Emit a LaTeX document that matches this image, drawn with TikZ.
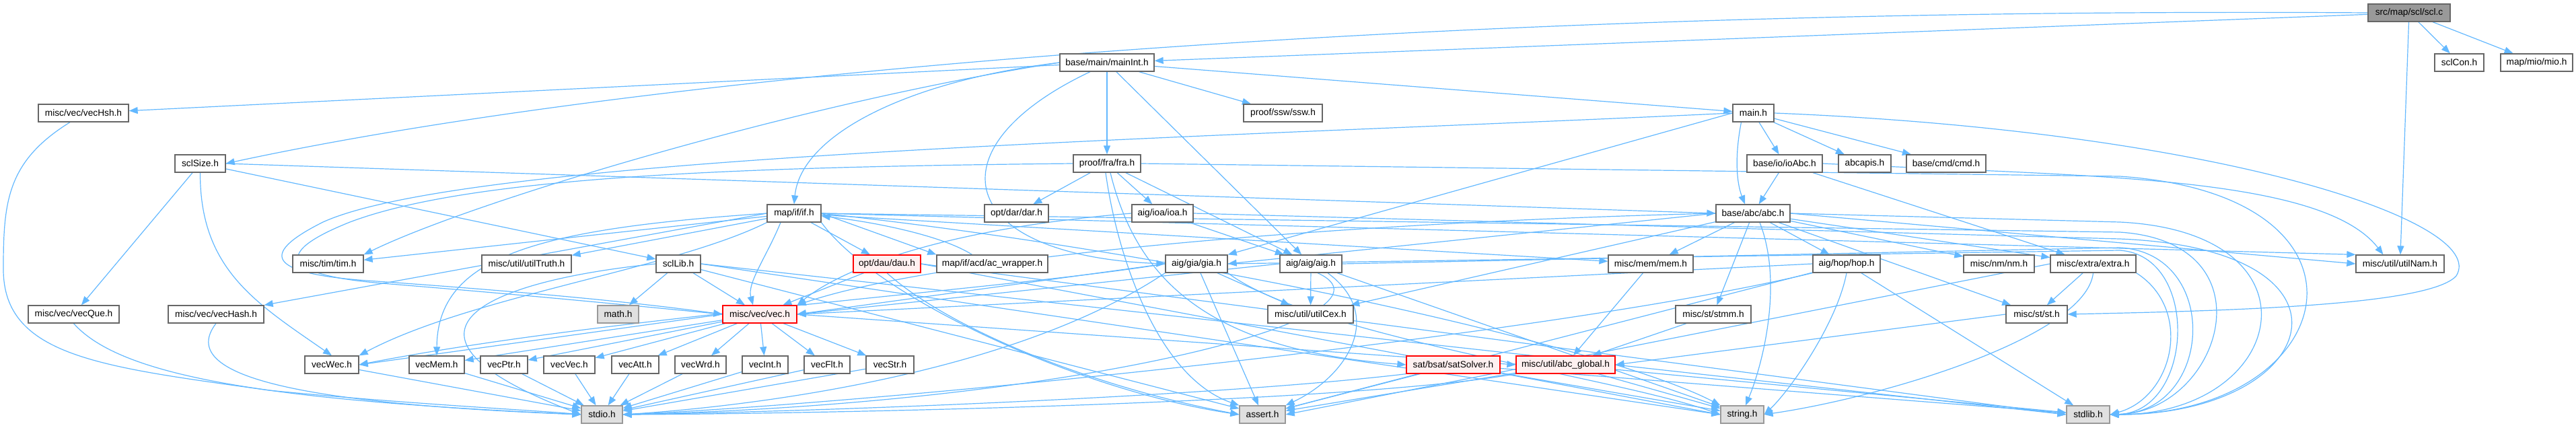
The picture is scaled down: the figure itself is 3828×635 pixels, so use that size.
\documentclass[tikz,border=0pt]{standalone}
\usepackage{fontspec}
\setmainfont{Liberation Sans}
\usepackage{xcolor}
\usepackage{tikz}
\usetikzlibrary{arrows.meta}

\definecolor{edgeblue}{HTML}{63B8FF}
\definecolor{boxgray}{HTML}{666666}
\definecolor{sysfill}{HTML}{E0E0E0}
\definecolor{sysdraw}{HTML}{999999}
\definecolor{cutfill}{HTML}{FFF0F0}
\definecolor{cutdraw}{HTML}{FF0000}
\definecolor{rootfill}{HTML}{999999}

\pgfdeclarelayer{edges}
\pgfsetlayers{edges,main}

\tikzset{
	hdr/.style={draw=boxgray, line width=1.3pt, fill=white, minimum height=26pt,
		inner xsep=1pt, inner ysep=0pt, font=\fontsize{13.7}{16}\selectfont},
	syshdr/.style={hdr, draw=sysdraw, fill=sysfill},
	cuthdr/.style={hdr, draw=cutdraw, fill=cutfill},
	roothdr/.style={hdr, fill=rootfill},
	dep/.style={draw=edgeblue, line width=1.2pt, -{Triangle[length=13pt,width=10pt]}},
}

\begin{document}
\begin{tikzpicture}[x=1pt,y=-1pt]
	\useasboundingbox (0,0) rectangle (3828,635);
	% Draw headers, row by row
	\node[roothdr, minimum width=122pt] (scl) at (3580,19) {src/map/scl/scl.c};
	\node[hdr, minimum width=140pt] (mainInt) at (1645,93) {base/main/mainInt.h};
	\node[hdr, minimum width=73pt] (sclCon) at (3654.5,93) {sclCon.h};
	\node[hdr, minimum width=107pt] (mio) at (3769.5,93) {map/mio/mio.h};
	\node[hdr, minimum width=134pt] (vecHsh) at (124,168) {misc/vec/vecHsh.h};
	\node[hdr, minimum width=117pt] (ssw) at (1906.5,168) {proof/ssw/ssw.h};
	\node[hdr, minimum width=61pt] (mainh) at (2605.5,168) {main.h};
	\node[hdr, minimum width=75pt] (sclSize) at (297.5,243) {sclSize.h};
	\node[hdr, minimum width=100pt] (fra) at (1645,243) {proof/fra/fra.h};
	\node[hdr, minimum width=112pt] (ioAbc) at (2652,243) {base/io/ioAbc.h};
	\node[hdr, minimum width=78pt] (abcapis) at (2771,243) {abcapis.h};
	\node[hdr, minimum width=118pt] (cmd) at (2892,243) {base/cmd/cmd.h};
	\node[hdr, minimum width=80pt] (ifh) at (1180,317) {map/if/if.h};
	\node[hdr, minimum width=95pt] (dar) at (1510.5,317) {opt/dar/dar.h};
	\node[hdr, minimum width=91pt] (ioa) at (1727.5,317) {aig/ioa/ioa.h};
	\node[hdr, minimum width=110pt] (abc) at (2605,317) {base/abc/abc.h};
	\node[hdr, minimum width=105pt] (tim) at (487.5,392) {misc/tim/tim.h};
	\node[hdr, minimum width=133pt] (truth) at (782.5,392) {misc/util/utilTruth.h};
	\node[hdr, minimum width=66pt] (sclLib) at (1008,392) {sclLib.h};
	\node[cuthdr, minimum width=100pt] (dau) at (1318,392) {opt/dau/dau.h};
	\node[hdr, minimum width=165pt] (acw) at (1474.5,392) {map/if/acd/ac\_wrapper.h};
	\node[hdr, minimum width=92pt] (gia) at (1778,392) {aig/gia/gia.h};
	\node[hdr, minimum width=92pt] (aig) at (1948,392) {aig/aig/aig.h};
	\node[hdr, minimum width=126pt] (mem) at (2453,392) {misc/mem/mem.h};
	\node[hdr, minimum width=100pt] (hop) at (2744,392) {aig/hop/hop.h};
	\node[hdr, minimum width=105pt] (nm) at (2970.5,392) {misc/nm/nm.h};
	\node[hdr, minimum width=127pt] (extra) at (3110.5,392) {misc/extra/extra.h};
	\node[hdr, minimum width=131pt] (nam) at (3566.5,392) {misc/util/utilNam.h};
	\node[hdr, minimum width=135pt] (vecQue) at (109.5,467) {misc/vec/vecQue.h};
	\node[hdr, minimum width=142pt] (vecHash) at (321,467) {misc/vec/vecHash.h};
	\node[syshdr, minimum width=61pt] (math) at (918.5,467) {math.h};
	\node[cuthdr, minimum width=110pt] (vec) at (1129,467) {misc/vec/vec.h};
	\node[hdr, minimum width=127pt] (cex) at (1947.5,467) {misc/util/utilCex.h};
	\node[hdr, minimum width=112pt] (stmm) at (2546,467) {misc/st/stmm.h};
	\node[hdr, minimum width=91pt] (st) at (3026.5,467) {misc/st/st.h};
	\node[hdr, minimum width=80pt] (vecWec) at (493,542) {vecWec.h};
	\node[hdr, minimum width=82pt] (vecMem) at (649,542) {vecMem.h};
	\node[hdr, minimum width=70pt] (vecPtr) at (749,542) {vecPtr.h};
	\node[hdr, minimum width=76pt] (vecVec) at (846,542) {vecVec.h};
	\node[hdr, minimum width=70pt] (vecAtt) at (944,542) {vecAtt.h};
	\node[hdr, minimum width=76pt] (vecWrd) at (1041,542) {vecWrd.h};
	\node[hdr, minimum width=68pt] (vecInt) at (1137,542) {vecInt.h};
	\node[hdr, minimum width=68pt] (vecFlt) at (1229,542) {vecFlt.h};
	\node[hdr, minimum width=71pt] (vecStr) at (1322.5,542) {vecStr.h};
	\node[cuthdr, minimum width=139pt] (sat) at (2159.5,542) {sat/bsat/satSolver.h};
	\node[cuthdr, minimum width=147pt] (glob) at (2326.5,542) {misc/util/abc\_global.h};
	\node[syshdr, minimum width=61pt] (stdio) at (894.5,616) {stdio.h};
	\node[syshdr, minimum width=68pt] (assert) at (1876,616) {assert.h};
	\node[syshdr, minimum width=64pt] (string) at (2589,616) {string.h};
	\node[syshdr, minimum width=64pt] (stdlib) at (3103,616) {stdlib.h};

	\begin{pgfonlayer}{edges}
	% scl.c
	\draw[dep] (scl) -- (mainInt);
	\draw[dep] (scl.west) .. controls (2200,10) and (1000,100) .. (sclSize.east);
	\draw[dep] (scl) -- (sclCon);
	\draw[dep] (scl) -- (mio);
	\draw[dep] (scl) -- (nam);
	% mainInt.h
	\draw[dep] (mainInt) -- (vecHsh);
	\draw[dep] (mainInt.west) .. controls (1200,150) and (700,300) .. (tim.north east);
	\draw[dep] (mainInt.west) .. controls (1350,120) and (1190,200) .. (ifh.north);
	\draw[dep] ([xshift=-25pt]mainInt.south) .. controls (1380,220) and (1420,380) .. (gia.west);
	\draw[dep] (mainInt) -- (fra);
	\draw[dep] (mainInt) -- (ssw);
	\draw[dep] (mainInt) -- (aig);
	\draw[dep] (mainInt) -- (mainh);
	% main.h
	\draw[dep] (mainh) -- (ioAbc);
	\draw[dep] (mainh) -- (abcapis);
	\draw[dep] (mainh) -- (cmd);
	\draw[dep] ([xshift=-18pt]mainh.south) .. controls (2578,230) and (2580,270) .. ([xshift=-12pt]abc.north);
	\draw[dep] (mainh.west) -- (gia.north east);
	\draw[dep] (mainh.west) .. controls (1800,205) and (700,230) .. (480,330)
		.. controls (380,380) and (400,408) .. (560,418) .. controls (800,435) and (950,450) .. (vec.west);
	\draw[dep] (mainh.east) .. controls (3300,195) and (3700,330) .. (3650,410)
		.. controls (3610,455) and (3300,462) .. (st.east);
	% sclSize.h
	\draw[dep] (sclSize) -- (vecQue);
	\draw[dep] (sclSize.south) .. controls (297,400) and (380,450) .. (vecWec.north);
	\draw[dep] (sclSize.east) -- (abc.west);
	\draw[dep] (sclSize) -- (sclLib);
	% proof/fra/fra.h
	\draw[dep] (fra) -- (dar);
	\draw[dep] (fra) -- (ioa);
	\draw[dep] (fra) -- (aig);
	\draw[dep] (fra.west) .. controls (1100,248) and (700,262) .. (520,330)
		.. controls (400,378) and (420,410) .. (580,422) .. controls (800,440) and (950,455) .. (vec.west);
	\draw[dep] ([xshift=-2pt]fra.south) .. controls (1660,380) and (1720,560) .. (assert.north west);
	\draw[dep] ([xshift=5pt]fra.south) .. controls (1690,420) and (1800,520) .. (sat.west);
	\draw[dep] (fra.east) -- (3150,262) .. controls (3560,290) and (3480,616) .. (stdlib.east);
	% base/io/ioAbc.h
	\draw[dep] (ioAbc) -- (abc);
	\draw[dep] (ioAbc) -- (extra);
	\draw[dep] (ioAbc.east) .. controls (3100,262) and (3450,260) .. ([xshift=-25pt]nam.north);
	% map/if/if.h
	\draw[dep] (ifh) -- (truth);
	\draw[dep] (ifh) -- (tim);
	\draw[dep] (ifh.west) -- (vecHash.north east);
	\draw[dep] (ifh.west) .. controls (800,340) and (650,380) .. (vecMem.north);
	\draw[dep] (ifh.south west) .. controls (1000,400) and (700,440) .. (vecWec.north east);
	\draw[dep] ([xshift=-20pt]ifh.south) .. controls (1140,380) and (1110,420) .. ([xshift=-10pt]vec.north);
	\draw[dep] (ifh) -- (dau);
	\draw[dep] (ifh.east) -- (acw.north west);
	\draw[dep] ([xshift=-30pt]acw.north) .. controls (1400,350) and (1300,330) .. ([yshift=-4pt]ifh.east);
	\draw[dep] (ifh) -- (mem);
	\draw[dep] (ifh.east) -- (nam.north west);
	\draw[dep] (ifh.south east) .. controls (1300,440) and (1600,580) .. (assert.west);
	\draw[dep] (ifh.east) -- (3150,345) .. controls (3380,360) and (3300,612) .. (stdlib.east);
	\draw[dep] (ifh.east) .. controls (1800,380) and (2400,520) .. (string.north west);
	% sclLib.h
	\draw[dep] (sclLib) -- (math);
	\draw[dep] (sclLib) -- (vec);
	\draw[dep] (sclLib.west) .. controls (700,420) and (560,500) .. (stdio.west);
	\draw[dep] (sclLib) -- (assert);
	\draw[dep] (sclLib.east) -- (string.west);
	\draw[dep] (sclLib.east) -- (stdlib.west);
	% opt/dau/dau.h
	\draw[dep] (dau) -- (vec);
	\draw[dep] (dau.south) .. controls (1400,480) and (1600,570) .. (assert.west);
	\draw[dep] (dau.east) -- (string.west);
	\draw[dep] (dau.east) -- (stdlib.west);
	% aig/ioa/ioa.h
	\draw[dep] (ioa) -- (aig);
	\draw[dep] (ioa.west) .. controls (1400,340) and (1250,400) .. (vec.north east);
	\draw[dep] (ioa.east) -- (3150,355) .. controls (3530,370) and (3450,616) .. (stdlib.east);
	% aig/gia/gia.h
	\draw[dep] (gia.west) -- (vec.east);
	\draw[dep] (gia.west) .. controls (1500,430) and (900,470) .. (vecWec.east);
	\draw[dep] (gia) -- (cex);
	\draw[dep] (gia) -- (assert);
	\draw[dep] (gia.south east) .. controls (1950,500) and (2400,560) .. (string.west);
	\draw[dep] (gia.south west) .. controls (1500,560) and (1100,605) .. (stdio.east);
	\draw[dep] (gia.east) -- (3150,372) .. controls (3270,380) and (3260,612) .. (stdlib.east);
	% aig/aig/aig.h
	\draw[dep] (aig) -- (cex);
	\draw[dep] (aig.west) -- (vec.east);
	\draw[dep] ([xshift=25pt]aig.south) .. controls (2060,470) and (2000,560) .. (assert.north east);
	\draw[dep] (aig) -- (string);
	\draw[dep] ([xshift=10pt]aig.south) .. controls (2100,470) and (1600,600) .. (stdio.east);
	\draw[dep] (aig.east) -- (3150,368) .. controls (3300,376) and (3290,612) .. (stdlib.east);
	% base/abc/abc.h
	\draw[dep] (abc) -- (hop);
	\draw[dep] (abc) -- (nm);
	\draw[dep] (abc) -- (extra);
	\draw[dep] (abc) -- (st);
	\draw[dep] (abc) -- (stmm);
	\draw[dep] (abc) -- (mem);
	\draw[dep] (abc) -- (cex);
	\draw[dep] (abc.east) -- (nam.west);
	\draw[dep] (abc.west) -- (gia.east);
	\draw[dep] (abc.west) .. controls (2000,330) and (1400,380) .. (vec.north east);
	\draw[dep] ([xshift=10pt]abc.south) .. controls (2650,420) and (2620,540) .. ([xshift=5pt]string.north);
	\draw[dep] (abc.east) -- (3150,330) .. controls (3460,345) and (3400,616) .. (stdlib.east);
	% aig/hop/hop.h
	\draw[dep] (hop.west) -- (vec.east);
	\draw[dep] (hop.south) .. controls (2730,480) and (2660,580) .. (string.east);
	\draw[dep] (hop) -- (stdlib);
	\draw[dep] (hop) -- (assert);
	\draw[dep] (hop.south west) .. controls (2300,500) and (1300,600) .. (stdio.east);
	% misc/extra/extra.h
	\draw[dep] (extra) -- (st);
	\draw[dep] (extra.west) -- (assert.east);
	\draw[dep] (extra.south) .. controls (3100,500) and (2800,590) .. (string.east);
	\draw[dep] (extra.south east) .. controls (3260,460) and (3230,590) .. (stdlib.east);
	% misc/st, misc/mem
	\draw[dep] (st.west) -- (glob.east);
	\draw[dep] (stmm) -- (glob);
	\draw[dep] (mem) -- (glob);
	% misc/vec/vec.h
	\foreach \v in {vecMem,vecPtr,vecVec,vecAtt,vecWrd,vecInt,vecFlt,vecStr}
	\draw[dep] (vec) -- (\v);
	\draw[dep] (vec.west) -- (vecWec.east);
	\draw[dep] (vec.east) -- (glob.west);
	% sat/bsat/satSolver.h, misc/util/abc_global.h
	\draw[dep] (sat) -- (assert);
	\draw[dep] (sat) -- (string);
	\draw[dep] (sat) -- (stdlib);
	\draw[dep] (sat.south west) .. controls (1800,590) and (1200,612) .. (stdio.east);
	\draw[dep] (glob) -- (assert);
	\draw[dep] (glob) -- (string);
	\draw[dep] (glob) -- (stdlib);
	\draw[dep] (glob.south west) .. controls (2000,600) and (1200,615) .. (stdio.east);
	% vectors down to stdio.h
	\draw[dep] ([xshift=-20pt]vecHsh.south) .. controls (10,240) and (5,300) .. (5,400)
		.. controls (5,530) and (150,545) .. (400,580) .. controls (600,600) and (800,610) .. (stdio.west);
	\draw[dep] (vecQue.south) .. controls (180,560) and (400,595) .. (stdio.west);
	\draw[dep] (vecHash.south) .. controls (260,560) and (450,600) .. (stdio.west);
	\draw[dep] (vecWec) -- (stdio);
	\foreach \v in {vecMem,vecPtr,vecVec,vecAtt,vecWrd,vecInt,vecFlt,vecStr}
	\draw[dep] (\v) -- (stdio);
	\end{pgfonlayer}
\end{tikzpicture}
\end{document}
